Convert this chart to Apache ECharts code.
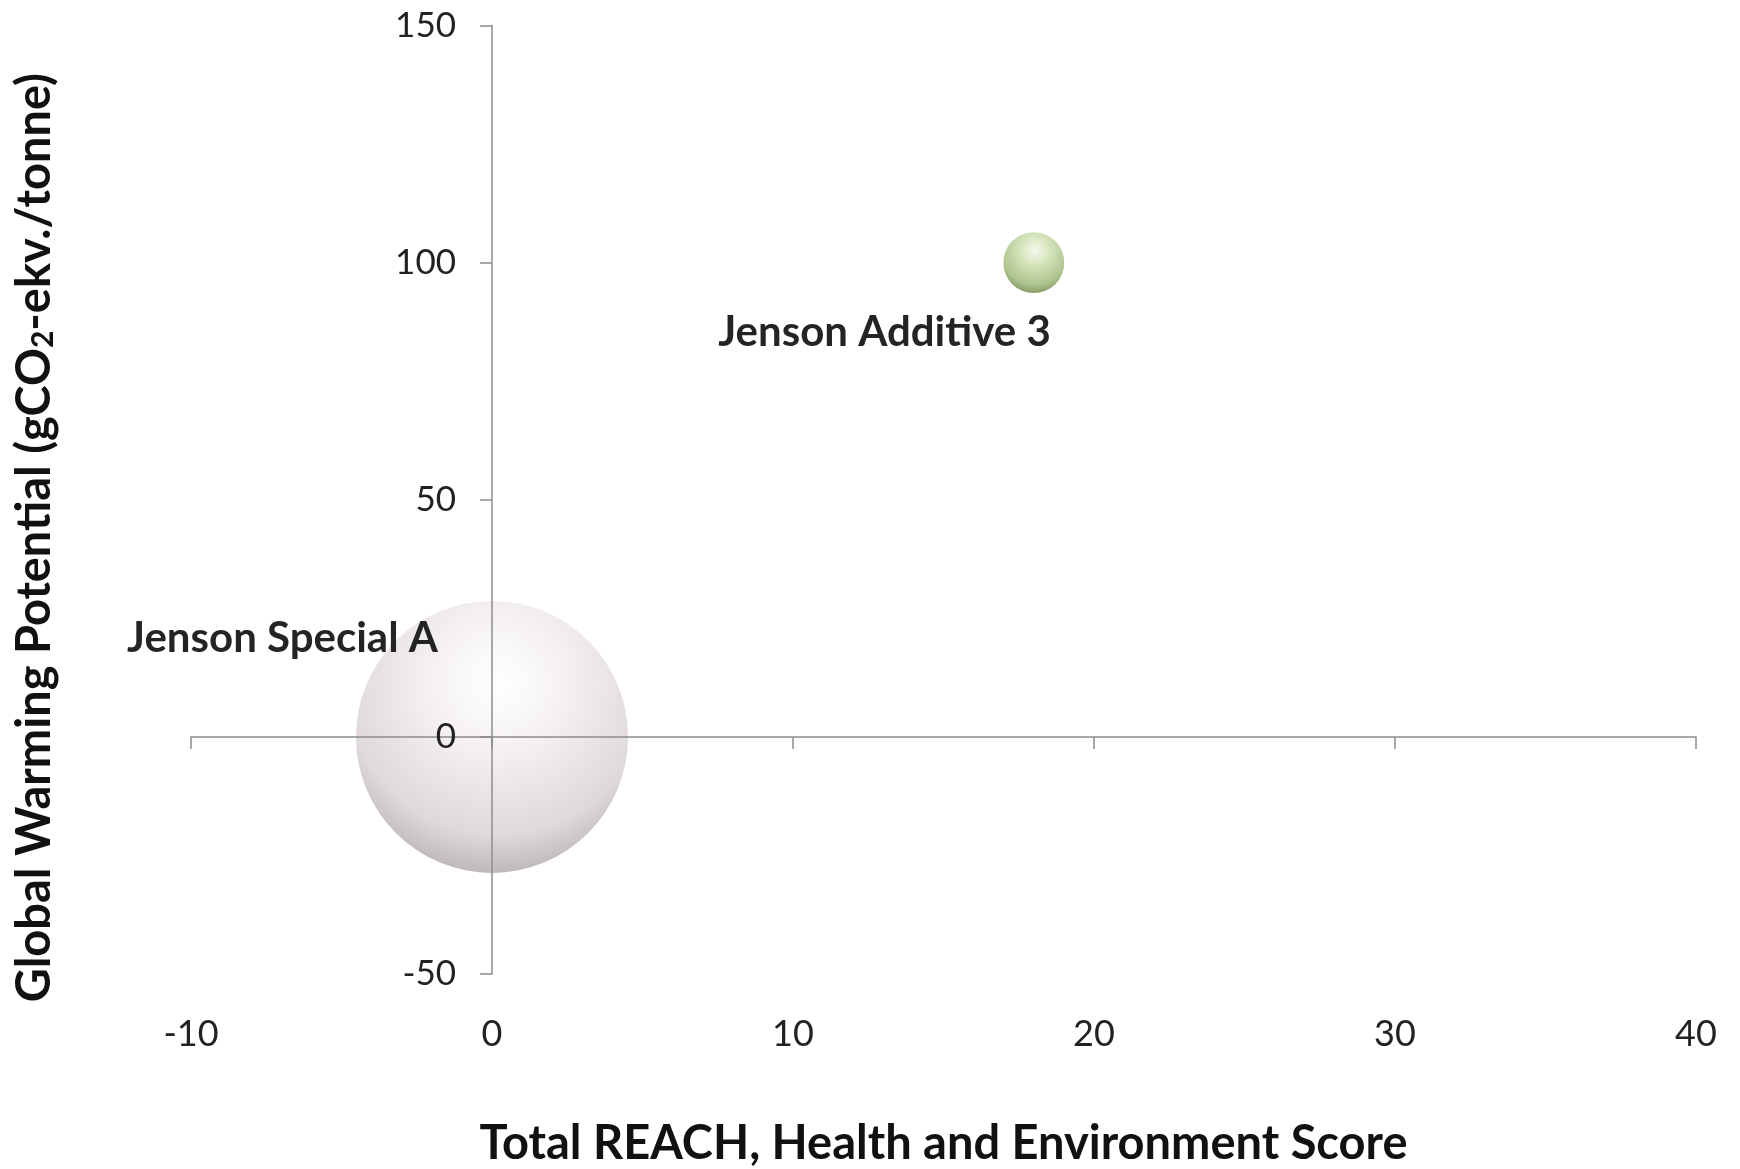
<!DOCTYPE html>
<html>
<head>
<meta charset="utf-8">
<script src="https://cdn.jsdelivr.net/npm/echarts@6/dist/echarts.min.js"></script>
<style>html,body{margin:0;padding:0;background:#fff;}#chart{width:1740px;height:1169px;}</style>
</head>
<body>
<div id="chart"></div>
<script>
// Data
const names = ['Jenson Special A', 'Jenson Additive 3'];
const reachScore = [0, 18];
const gwp = [0, 100];
const bubbleSize = [100, 5];
const xTicks = [-10, 0, 10, 20, 30, 40];
const yTicks = [-50, 0, 50, 100, 150];

const FONT = 'Lato';
const maxDiameter = 272;
const maxSize = Math.max(...bubbleSize);

const bubbleStyles = [
  { stops: ['#ffffff', '#f4efef', '#dcd5d5', '#aea6a6'], label: { offset: [-54, -98] } },
  { stops: ['#f4f9ea', '#cfe0b2', '#a7bf84', '#6f844b'], label: { offset: [17, 70] } }
];

const data = names.map((n, i) => ({
  name: n,
  value: [reachScore[i], gwp[i], bubbleSize[i]],
  itemStyle: {
    color: {
      type: 'radial', x: 0.52, y: 0.3, r: 0.75,
      colorStops: [
        { offset: 0, color: bubbleStyles[i].stops[0] },
        { offset: 0.35, color: bubbleStyles[i].stops[1] },
        { offset: 0.75, color: bubbleStyles[i].stops[2] },
        { offset: 1, color: bubbleStyles[i].stops[3] }
      ]
    }
  },
  label: {
    show: true,
    position: 'inside',
    align: 'right',
    verticalAlign: 'middle',
    offset: bubbleStyles[i].label.offset,
    formatter: '{b}',
    color: '#111',
    fontFamily: FONT,
    fontWeight: 'bold',
    fontSize: 42
  }
}));

const chart = echarts.init(document.getElementById('chart'), null, { renderer: 'canvas' });
const axisColor = '#8c8c8c';
const gridLeft = 191, gridRight = 44;
// distance (px) from the grid's left edge to the x = 0 line
const zeroShift = (0 - xTicks[0]) / (xTicks[xTicks.length - 1] - xTicks[0]) * (1740 - gridLeft - gridRight);
chart.setOption({
  backgroundColor: '#ffffff',
  animation: false,
  grid: { left: gridLeft, right: gridRight, top: 25.5, bottom: 195, containLabel: false, outerBoundsMode: 'none' },
  xAxis: [
    {
      type: 'value', min: xTicks[0], max: xTicks[xTicks.length - 1], interval: 10,
      position: 'bottom', z: 3,
      axisLine: { show: true, onZero: true, onZeroAxisIndex: 0, lineStyle: { color: axisColor, width: 1.5 } },
      axisTick: { show: true, inside: false, length: 12, lineStyle: { color: axisColor, width: 1.5 } },
      axisLabel: { show: false },
      splitLine: { show: false }
    },
    {
      type: 'value', min: xTicks[0], max: xTicks[xTicks.length - 1], interval: 10,
      position: 'bottom',
      axisLine: { show: false, onZero: false },
      axisTick: { show: false },
      axisLabel: { show: true, margin: 42, fontFamily: FONT, fontSize: 36, color: '#222' },
      splitLine: { show: false },
      name: 'Total REACH, Health and Environment Score',
      nameLocation: 'middle',
      nameGap: 146,
      nameTextStyle: { fontFamily: FONT, fontWeight: 'bold', fontSize: 47, color: '#111' }
    }
  ],
  yAxis: [
    {
      type: 'value', min: yTicks[0], max: yTicks[yTicks.length - 1], interval: 50,
      position: 'left', z: 3,
      axisLine: { show: true, onZero: true, onZeroAxisIndex: 0, lineStyle: { color: axisColor, width: 1.5 } },
      axisTick: { show: true, inside: false, length: 12, lineStyle: { color: axisColor, width: 1.5 } },
      axisLabel: { show: true, margin: 36 - zeroShift, fontFamily: FONT, fontSize: 35, color: '#222' },
      splitLine: { show: false }
    },
    {
      type: 'value', min: yTicks[0], max: yTicks[yTicks.length - 1], interval: 50,
      position: 'left',
      axisLine: { show: false, onZero: false },
      axisTick: { show: false },
      axisLabel: { show: false },
      splitLine: { show: false },
      name: '{a|Global Warming Potential (gCO}{s|2}{a|-ekv./tonne)}',
      nameLocation: 'middle',
      nameGap: 133,
      nameRotate: 90,
      nameTextStyle: {
        padding: [0, 76, 0, 0],
        rich: {
          a: { fontFamily: FONT, fontWeight: 'bold', fontSize: 47, color: '#111', lineHeight: 56, verticalAlign: 'bottom' },
          s: { fontFamily: FONT, fontWeight: 'bold', fontSize: 30, color: '#111', lineHeight: 46, verticalAlign: 'bottom' }
        }
      }
    }
  ],
  series: [
    {
      type: 'scatter',
      xAxisIndex: 0, yAxisIndex: 0,
      z: 2,
      symbol: 'circle',
      symbolSize: function (val) { return Math.sqrt(val[2] / maxSize) * maxDiameter; },
      itemStyle: { opacity: 0.92 },
      emphasis: { disabled: true },
      data: data
    }
  ]
});
</script>
</body>
</html>
